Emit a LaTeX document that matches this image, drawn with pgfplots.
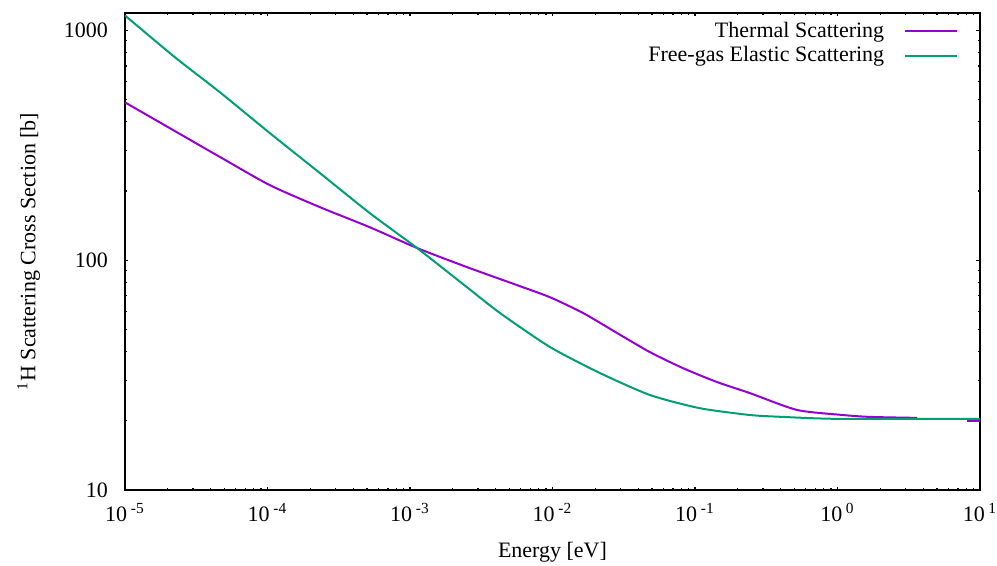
\documentclass[border=0pt]{standalone}
\usepackage{fontspec}
\setmainfont{Liberation Serif}
\usepackage{pgfplots}
\pgfplotsset{compat=1.18}
\definecolor{thermal}{RGB}{148,0,211}
\definecolor{freegas}{RGB}{0,158,115}
\begin{document}
\begin{tikzpicture}[font=\fontsize{11}{13}\selectfont]
\begin{axis}[name=ax, scale only axis, width=427.5pt, height=238.5pt,
  xmode=log, ymode=log, xmin=1e-5, xmax=10, ymin=10, ymax=1190,
  xtick={1e-5,1e-4,1e-3,1e-2,1e-1,1,10},
  xticklabels={10\,\textsuperscript{-5},10\,\textsuperscript{-4},10\,\textsuperscript{-3},10\,\textsuperscript{-2},10\,\textsuperscript{-1},10\,\textsuperscript{0},10\,\textsuperscript{1}},
  minor xtick={2e-5,3e-5,4e-5,5e-5,6e-5,7e-5,8e-5,9e-5,
               2e-4,3e-4,4e-4,5e-4,6e-4,7e-4,8e-4,9e-4,
               2e-3,3e-3,4e-3,5e-3,6e-3,7e-3,8e-3,9e-3,
               2e-2,3e-2,4e-2,5e-2,6e-2,7e-2,8e-2,9e-2,
               0.2,0.3,0.4,0.5,0.6,0.7,0.8,0.9,
               2,3,4,5,6,7,8,9},
  ytick={10,100,1000}, yticklabels={10,100,1000},
  minor ytick={20,30,40,50,60,70,80,90,200,300,400,500,600,700,800,900},
  major tick length=1.75pt, minor tick length=1pt,
  every tick/.append style={black, line width=0.6pt},
  axis line style={line width=0.9pt},
  xticklabel style={yshift=-3pt},
  yticklabel style={xshift=-5pt},
  xlabel={Energy [eV]},
  xlabel style={yshift=-3.5pt},
  ylabel={\textsuperscript{1}H Scattering Cross Section [b]},
  ylabel style={yshift=5pt},
  legend style={draw=none, fill=none, at={(rel axis cs:0.982,0.998)}, anchor=north east, row sep=-1pt,
    font=\fontsize{11}{13}\selectfont, /tikz/every odd column/.append style={column sep=8pt}},
  legend cell align=right, legend plot pos=right,
  legend image code/.code={\draw[#1] (0pt,0pt) -- (26pt,0pt);},
]
\addplot[thermal, line width=1pt, smooth, tension=0.4] coordinates {
(1e-5,486) (2.07e-5,375) (4.65e-5,281) (1.04e-4,212) (2.34e-4,170) (5.24e-4,139)
(1.12e-3,113) (2.51e-3,93.3) (5.64e-3,77.9) (9.6e-3,69.0) (0.0164,58.9) (0.0284,48.2)
(0.0483,39.8) (0.0824,33.9) (0.1426,29.5) (0.243,26.4) (0.52,22.3) (1.09,21.2)
(1.69,20.8) (3.62,20.6)
};
\addlegendentry{Thermal Scattering}
\addplot[freegas, line width=1pt, smooth, tension=0.4] coordinates {
(1e-5,1161) (2.24e-5,764) (4.65e-5,537) (1.04e-4,357) (2.34e-4,239) (5.24e-4,160)
(1.12e-3,113) (2.51e-3,76.3) (4.28e-3,58.9) (9.6e-3,41.9) (0.0215,32.3) (0.0483,25.9)
(0.108,22.7) (0.243,21.2) (0.415,20.8) (1,20.4) (10,20.4)
};
\addlegendentry{Free-gas Elastic Scattering}
\addplot[thermal, line width=1pt, forget plot] coordinates {(8.1,20.0) (10,20.0)};
\end{axis}
\pgfresetboundingbox
\path ([xshift=-62.5pt,yshift=-37.5pt]ax.south west) rectangle ([xshift=8.5pt,yshift=6.5pt]ax.north east);
\end{tikzpicture}
\end{document}
